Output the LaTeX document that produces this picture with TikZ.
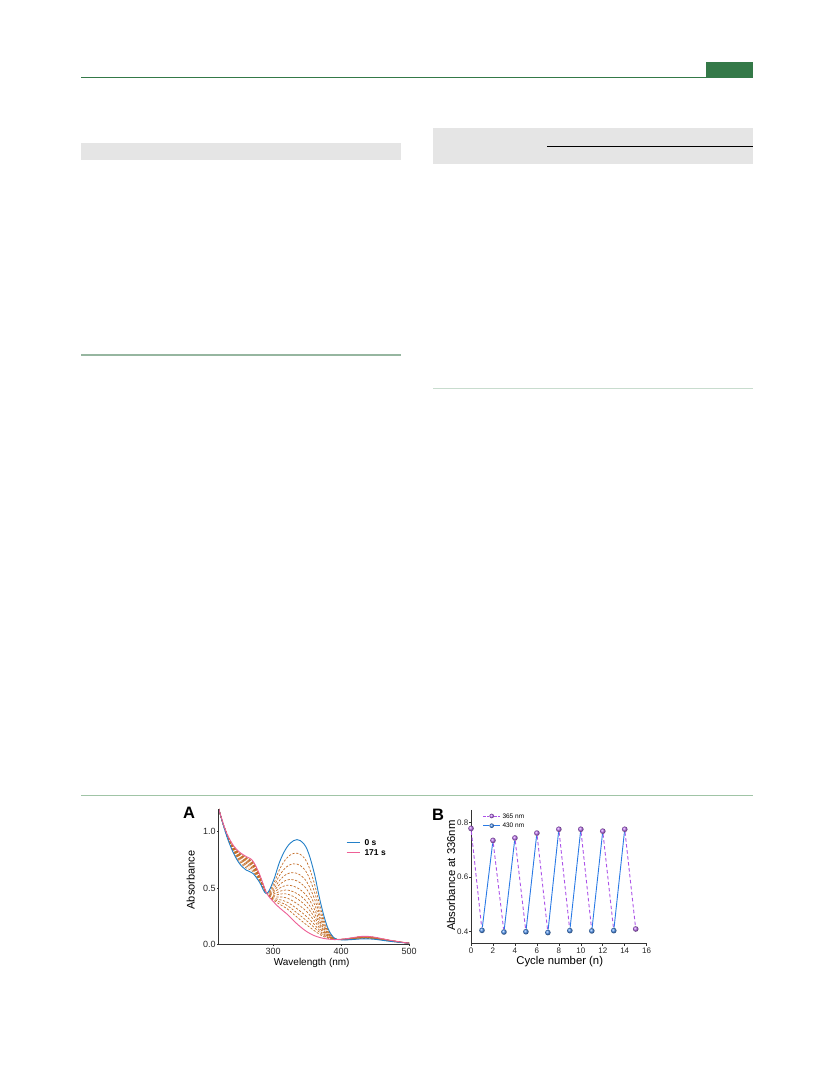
\documentclass[tikz,border=0pt]{standalone}
\usepackage{fontspec}
\setmainfont{Liberation Sans}

\definecolor{hdgreen}{RGB}{52,121,72}
\definecolor{boxgray}{RGB}{229,229,229}
\definecolor{rulegreen}{RGB}{150,182,160}
\definecolor{rulelight}{RGB}{200,220,206}
\definecolor{rulemid}{RGB}{160,196,166}
\definecolor{startblue}{RGB}{35,128,200}
\definecolor{endpink}{RGB}{238,96,150}
\definecolor{midbrown}{RGB}{196,110,40}
\definecolor{uvpurple}{RGB}{172,82,232}
\definecolor{visblue}{RGB}{42,122,230}

% espectros: comprimento de onda / 0 s / 171 s
\newcommand\absdados{220/1.20/1.20, 230/0.99/1.01, 240/0.83/0.89, 250/0.72/0.82,
  260/0.66/0.78, 270/0.63/0.74, 280/0.55/0.62, 290/0.45/0.46, 300/0.56/0.38,
  310/0.74/0.32, 320/0.86/0.27, 330/0.92/0.21, 340/0.92/0.155, 350/0.84/0.11,
  360/0.64/0.078, 370/0.36/0.058, 380/0.15/0.047, 390/0.055/0.042, 400/0.040/0.045,
  410/0.040/0.052, 420/0.044/0.062, 430/0.048/0.070, 440/0.048/0.070, 450/0.044/0.062,
  460/0.036/0.050, 470/0.028/0.038, 480/0.021/0.028, 490/0.015/0.018, 500/0.010/0.011}

\tikzset{
  startcurve/.style={draw=startblue, line width=0.9pt},
  endcurve/.style={draw=endpink, line width=0.9pt},
  midcurve/.style={draw=midbrown, line width=0.7pt, dash pattern=on 2.2pt off 1.6pt},
  axisline/.style={draw=black!80, line width=1pt},
  tickA/.style={font=\fontsize{9}{10}\selectfont, inner sep=0pt, text=black!85},
  tickB/.style={font=\fontsize{8}{9}\selectfont, inner sep=0pt, text=black!85},
  panellbl/.style={font=\bfseries\fontsize{16.5}{17}\selectfont, inner sep=0pt},
  legA/.style={font=\bfseries\fontsize{8.5}{9}\selectfont, inner sep=0pt, anchor=west},
  legB/.style={font=\fontsize{6.5}{7}\selectfont, inner sep=0pt, anchor=west},
  uvline/.style={draw=uvpurple, line width=0.9pt, dash pattern=on 3.5pt off 2.5pt},
  visline/.style={draw=visblue, line width=0.9pt},
  uvdot/.style={circle, inner sep=0pt, minimum size=5.6pt, ball color=uvpurple!85!white},
  visdot/.style={circle, inner sep=0pt, minimum size=5.6pt, ball color=visblue!85!white},
}

\begin{document}
\begin{tikzpicture}[x=1pt,y=-1pt]
  \useasboundingbox[fill=white] (0,0) rectangle (833,1091);

  % Cabecalho
  \draw[hdgreen, line width=1pt] (81,78) -- (753,78);
  \fill[hdgreen] (706,62.5) rectangle (753,78.5);

  % Caixas cinzas
  \fill[boxgray] (81,143) rectangle (401,160);
  \fill[boxgray] (433,128) rectangle (753,164.5);
  \draw[black, line width=0.9pt] (547,146) -- (753,146);

  % Filetes
  \draw[rulegreen, line width=1.2pt] (81,355) -- (401,355);
  \draw[rulelight, line width=1.2pt] (433,388.5) -- (753,388.5);
  \draw[rulemid, line width=1.3pt] (81,795.3) -- (753,795.3);

  % ---------------- Painel A ----------------
  \node[panellbl] (labA) at (189,813) {A};

  \begin{scope}[shift={(69.2,944.3)}, x=0.68pt, y=112.7pt]
    % Curvas (intermediarias, 0 s, 171 s)
    \foreach \f/\sty in {0.16/midcurve,0.29/midcurve,0.40/midcurve,0.49/midcurve,
        0.57/midcurve,0.64/midcurve,0.70/midcurve,0.76/midcurve,0.82/midcurve,
        0.87/midcurve,0.92/midcurve,0/startcurve,1/endcurve}{
      \gdef\pts{}
      \foreach \wl/\ya/\yb in \absdados {
        \pgfmathsetmacro\yy{(1-\f)*\ya+\f*\yb}
        \xdef\pts{\pts (\wl,\yy)}
      }
      \edef\curva{\noexpand\draw[\sty] plot[smooth, tension=0.6] coordinates {\pts};}
      \curva
    }

    % Eixos
    \draw[axisline] (220,1.2) -- (220,0) -- (500,0);
    \foreach \v [count=\i] in {0.0,0.5,1.0}{
      \draw[axisline, line width=0.6pt] (220,\v) -- ++(-2pt,0);
      \node[tickA, anchor=east] (ytA\i) at ([xshift=-3pt]220,\v) {\v};
    }
    \foreach \w [count=\i] in {300,400,500}{
      \draw[axisline, line width=0.6pt] (\w,0) -- ++(0,-2pt);
      \node[tickA, anchor=north] (xtA\i) at ([yshift=-4pt]\w,0) {\w};
    }
  \end{scope}

  % Rotulos dos eixos
  \node[font=\fontsize{10}{11}\selectfont] (xlabA) at (311.7,963.3) {Wavelength (nm)};
  \node[font=\fontsize{11}{12}\selectfont, rotate=90] (ylabA) at (190.7,880) {Absorbance};

  % Legenda
  \coordinate (lgA1) at (346.7,842.7);
  \coordinate (lgA2) at (346.7,852.3);
  \draw[startcurve] (lgA1) -- ++(13.3pt,0);
  \draw[endcurve] (lgA2) -- ++(13.3pt,0);
  \node[legA] (txA1) at (364.3,842.7) {0 s};
  \node[legA] (txA2) at (364.3,852.3) {171 s};

  % ---------------- Painel B ----------------
  \node[panellbl] (labB) at (438,814.5) {B};

  \begin{scope}[shift={(471,1040.7)}, x=10.98pt, y=272.5pt]
    % Eixos
    \draw[axisline] (0,0.847) -- (0,0.355) -- (16,0.355);
    \foreach \n in {0,2,...,16}{
      \draw[axisline, line width=0.6pt] (\n,0.355) -- ++(0,-2pt);
      \node[tickB, anchor=north] (xtB\n) at ([yshift=-3.5pt]\n,0.355) {\n};
    }
    \foreach \v [count=\i] in {0.4,0.6,0.8}{
      \draw[axisline, line width=0.6pt] (0,\v) -- ++(-2pt,0);
      \node[tickB, anchor=east] (ytB\i) at ([xshift=-2.5pt]0,\v) {\v};
    }

    % Pontos
    \foreach \n/\v in {0/0.779, 2/0.735, 4/0.744, 6/0.762, 8/0.776,
        10/0.776, 12/0.769, 14/0.776, 15/0.410}
      \node[uvdot] (u\n) at (\n,\v) {};
    \foreach \n/\v in {1/0.405, 3/0.399, 5/0.400, 7/0.397, 9/0.404,
        11/0.403, 13/0.404}
      \node[visdot] (v\n) at (\n,\v) {};

    % Ligacoes
    \foreach \a/\c in {u0/v1, u2/v3, u4/v5, u6/v7, u8/v9, u10/v11, u12/v13, u14/u15}
      \draw[uvline] (\a) -- (\c);
    \foreach \a/\c in {v1/u2, v3/u4, v5/u6, v7/u8, v9/u10, v11/u12, v13/u14}
      \draw[visline] (\a) -- (\c);
  \end{scope}

  % Rotulos dos eixos
  \node[font=\fontsize{11.3}{12}\selectfont] (xlabB) at (559.7,961.7) {Cycle number (n)};
  \node[font=\fontsize{11.3}{12}\selectfont, rotate=90] (ylabB) at (451,875.7) {Absorbance at 336nm};

  % Legenda
  \node[uvdot, minimum size=4.6pt] (lgB1) at (491.7,816) {};
  \node[visdot, minimum size=4.6pt] (lgB2) at (491.7,825.7) {};
  \coordinate (lgB1a) at (483.3,816);
  \coordinate (lgB1b) at (500,816);
  \coordinate (lgB2a) at (483.3,825.7);
  \coordinate (lgB2b) at (500,825.7);
  \draw[uvline, dash pattern=on 2.5pt off 1.5pt] (lgB1a) -- (lgB1);
  \draw[uvline, dash pattern=on 2.5pt off 1.5pt] (lgB1) -- (lgB1b);
  \draw[visline] (lgB2a) -- (lgB2);
  \draw[visline] (lgB2) -- (lgB2b);
  \node[legB] (txB1) at (502.3,816) {365 nm};
  \node[legB] (txB2) at (502.3,825.7) {430 nm};
\end{tikzpicture}
\end{document}
